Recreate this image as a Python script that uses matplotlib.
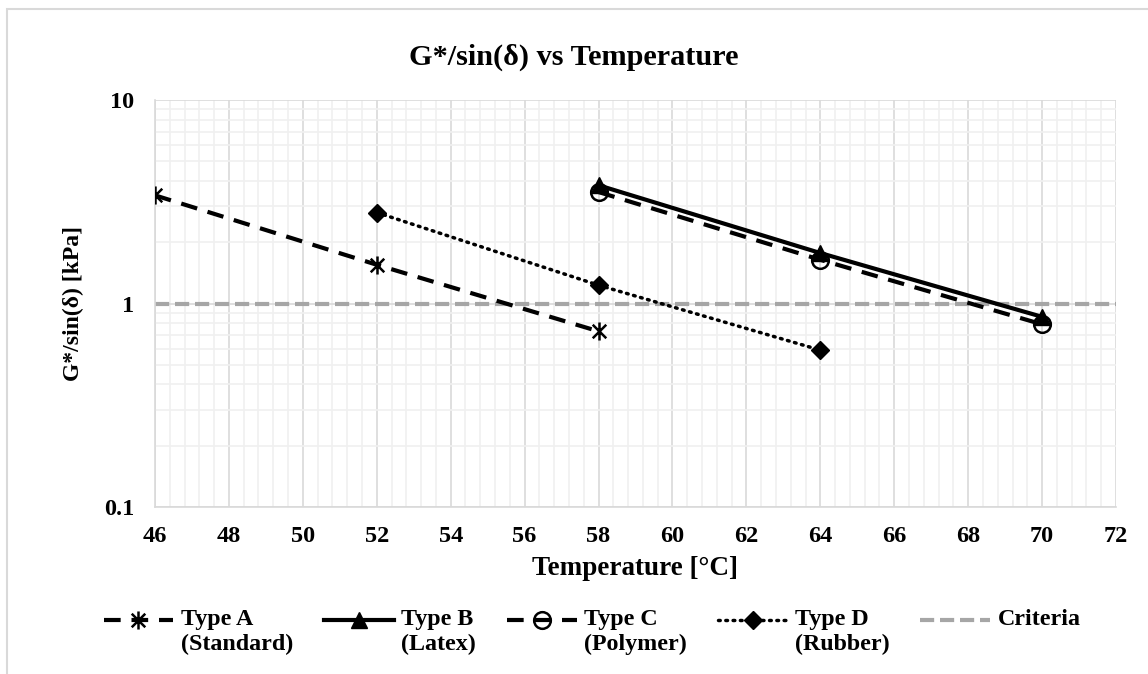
import matplotlib
matplotlib.use("Agg")
import matplotlib.pyplot as plt
from matplotlib.path import Path
from matplotlib.patches import Rectangle
from matplotlib.legend_handler import HandlerLine2D
from matplotlib.ticker import FixedLocator, LogLocator, NullFormatter, MultipleLocator

plt.rcParams['font.family'] = ['Liberation Serif', 'DejaVu Serif']
plt.rcParams['font.weight'] = 'bold'

# Binder test results
temp_a = [46, 52, 58]
gstar_a = [3.40, 1.55, 0.73]
temp_b = [58, 64, 70]
gstar_b = [3.81, 1.77, 0.86]
temp_c = [58, 64, 70]
gstar_c = [3.53, 1.64, 0.79]
temp_d = [52, 58, 64]
gstar_d = [2.80, 1.23, 0.59]
criteria_temp = [46, 72]
criteria_value = [1.0, 1.0]

labels = ["Type A\n(Standard)", "Type B\n(Latex)", "Type C\n(Polymer)",
          "Type D\n(Rubber)", "Criteria\n "]
x_ticks = list(range(46, 73, 2))
y_ticks = [0.1, 1, 10]
y_tick_labels = ["0.1", "1", "10"]

# asterisk marker: vertical bar plus an x
star = Path([(0, -1), (0, 1), (-0.75, -0.75), (0.75, 0.75), (-0.75, 0.75), (0.75, -0.75)],
            [Path.MOVETO, Path.LINETO, Path.MOVETO, Path.LINETO, Path.MOVETO, Path.LINETO])


class TopLineHandler(HandlerLine2D):
    """Legend handle lifted so it sits beside the first line of a two-line label."""
    def __init__(self, lift=0.0, **kw):
        super().__init__(**kw)
        self.lift = lift

    def create_artists(self, legend, orig_handle, xdescent, ydescent,
                       width, height, fontsize, trans):
        return super().create_artists(legend, orig_handle, xdescent,
                                      ydescent - 2 * self.lift, width, height,
                                      fontsize, trans)


fig = plt.figure(figsize=(11.48, 6.74), dpi=100)
fig.patches.append(Rectangle((7 / 1148, -0.1), 1.2, (674 - 9) / 674 + 0.1,
                             transform=fig.transFigure, fill=False,
                             edgecolor='#d9d9d9', linewidth=1.5))
ax = fig.add_axes([155 / 1148, 1 - 507 / 674, (1116 - 155) / 1148, (507 - 100) / 674])

ax.set_yscale('log')
ax.set_xlim(46, 72)
ax.set_ylim(0.1, 10)

ax.xaxis.set_major_locator(FixedLocator(x_ticks))
ax.xaxis.set_minor_locator(MultipleLocator(0.4))
ax.yaxis.set_major_locator(FixedLocator(y_ticks))
ax.yaxis.set_minor_locator(LogLocator(base=10, subs=range(2, 10)))
ax.yaxis.set_minor_formatter(NullFormatter())
ax.set_yticklabels(y_tick_labels)

ax.grid(which='minor', color='#f0f0f0', linewidth=1.2)
ax.grid(which='major', color='#d9d9d9', linewidth=1.2)
ax.set_axisbelow(True)
for s in ax.spines.values():
    s.set_visible(False)
for side in ('left', 'bottom'):
    ax.spines[side].set_visible(True)
    ax.spines[side].set_color('#d9d9d9')
    ax.spines[side].set_linewidth(1.2)
ax.tick_params(which='both', length=0)
ax.tick_params(axis='x', pad=14, labelsize=17.5)
ax.tick_params(axis='y', pad=15, labelsize=17.5)

h_crit, = ax.plot(criteria_temp, criteria_value, color='#a6a6a6', linewidth=3,
                  dashes=(3.4, 1.4), label=labels[4], zorder=2)
h_a, = ax.plot(temp_a, gstar_a, color='black', linewidth=3, dashes=(4, 2.6),
               marker=star, markersize=13, markeredgewidth=1.8, label=labels[0], zorder=3)
h_c, = ax.plot(temp_c, gstar_c, color='black', linewidth=3, dashes=(4, 2.6),
               marker='o', markersize=12, markerfacecolor='none', markeredgewidth=1.8,
               label=labels[2], zorder=3)
h_b, = ax.plot(temp_b, gstar_b, color='black', linewidth=3, marker='^',
               markersize=11, label=labels[1], zorder=4)
h_d, = ax.plot(temp_d, gstar_d, color='black', linewidth=2.5, dashes=(0.5, 1.6),
               dash_capstyle='round', marker='D', markersize=9, label=labels[3], zorder=3)

fig.text(0.5, 1 - 57 / 674, "G*/sin(δ) vs Temperature", ha='center', va='center',
         fontsize=21.8, fontweight='bold')
ax.set_xlabel("Temperature [°C]", fontsize=19.5, fontweight='bold', labelpad=6)
ax.set_ylabel("G*/sin(δ) [kPa]", fontsize=17, fontweight='bold', labelpad=14)

handles = [h_a, h_b, h_c, h_d, h_crit]
fig.legend(handles, labels, ncol=5, loc='center',
           bbox_to_anchor=(592 / 1148, 1 - 632 / 674), frameon=False,
           fontsize=17.3, handlelength=2.9, handletextpad=0.3, columnspacing=1.3,
           handler_map={h: TopLineHandler(lift=8.5) for h in handles})

fig.savefig("out.png", dpi=100)
